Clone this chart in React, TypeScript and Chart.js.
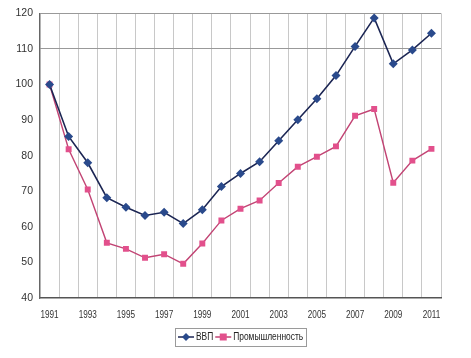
import React, { useEffect, useRef } from "react";
import { Chart, registerables } from "chart.js";

Chart.register(...registerables);

const years = [
  "1991", "1992", "1993", "1994", "1995", "1996", "1997", "1998", "1999", "2000",
  "2001", "2002", "2003", "2004", "2005", "2006", "2007", "2008", "2009", "2010", "2011",
];
const gdp = [100, 85.4, 78, 68.2, 65.5, 63.2, 64.1, 60.9, 64.8, 71.3, 75, 78.3, 84.2, 90.1, 96, 102.5, 110.7, 118.7, 105.8, 109.7, 114.4];
const industry = [100, 81.8, 70.5, 55.5, 53.8, 51.3, 52.3, 49.6, 55.3, 61.8, 65.1, 67.4, 72.3, 76.9, 79.7, 82.6, 91.2, 93.1, 72.4, 78.6, 81.9];
const seriesNames = ["ВВП", "Промышленность"];

const FONT = "'Liberation Sans', Arial, sans-serif";
const GDP_LINE = "#1c2654";
const GDP_MARK = "#2a4a8c";
const IND_LINE = "#c24474";
const IND_MARK = "#e2508c";

// Draws condensed x labels (every other year) and a boxed legend below the plot.
const condensedText = {
  id: "condensedText",
  afterDraw(chart: any) {
    const ctx = chart.ctx;
    const xs = chart.scales.x;
    const area = chart.chartArea;
    ctx.save();
    ctx.fillStyle = "#333";
    ctx.font = `10.5px ${FONT}`;
    ctx.textAlign = "center";
    ctx.textBaseline = "middle";
    const sx = 0.78;
    years.forEach((y, i) => {
      if (i % 2 !== 0) return;
      const px = xs.getPixelForTick(i);
      ctx.save();
      ctx.translate(px, area.bottom + 17);
      ctx.scale(sx, 1);
      ctx.fillText(y, 0, 0);
      ctx.restore();
    });
    ctx.restore();

    // legend
    const lsx = 0.8;
    ctx.save();
    ctx.font = `10.5px ${FONT}`;
    const iconW = 16;
    const gap = 2;
    const itemGap = 2;
    const pad = 3;
    const widths = seriesNames.map((n) => ctx.measureText(n).width * lsx);
    const total = pad * 2 + widths.reduce((a, w) => a + iconW + gap + w, 0) + itemGap;
    const cx = (area.left + area.right) / 2;
    let x = Math.round(cx - total / 2);
    const top = area.bottom + 30;
    const h = 18;
    const mid = top + h / 2;
    ctx.strokeStyle = "#9a9a9a";
    ctx.lineWidth = 1;
    ctx.strokeRect(x + 0.5, top + 0.5, Math.round(total), h);
    x += pad;
    seriesNames.forEach((n, i) => {
      const line = i === 0 ? GDP_LINE : IND_LINE;
      const mark = i === 0 ? GDP_MARK : IND_MARK;
      ctx.strokeStyle = line;
      ctx.lineWidth = 1.5;
      ctx.beginPath();
      ctx.moveTo(x, mid);
      ctx.lineTo(x + iconW, mid);
      ctx.stroke();
      ctx.fillStyle = mark;
      const c = x + iconW / 2;
      ctx.beginPath();
      if (i === 0) {
        ctx.moveTo(c, mid - 4);
        ctx.lineTo(c + 4, mid);
        ctx.lineTo(c, mid + 4);
        ctx.lineTo(c - 4, mid);
        ctx.closePath();
      } else {
        ctx.rect(c - 3.5, mid - 3.5, 7, 7);
      }
      ctx.fill();
      x += iconW + gap;
      ctx.save();
      ctx.translate(x, mid);
      ctx.scale(lsx, 1);
      ctx.fillStyle = "#222";
      ctx.textAlign = "left";
      ctx.textBaseline = "middle";
      ctx.fillText(n, 0, 0);
      ctx.restore();
      x += widths[i] + itemGap;
    });
    ctx.restore();
  },
};

export default function App() {
  const ref = useRef<HTMLCanvasElement>(null);
  useEffect(() => {
    if (!ref.current) return;
    const chart = new Chart(ref.current, {
      type: "line",
      data: {
        labels: years,
        datasets: [
          {
            label: seriesNames[0],
            data: gdp,
            borderColor: GDP_LINE,
            backgroundColor: GDP_MARK,
            borderWidth: 1.6,
            pointStyle: "rectRot",
            pointRadius: 4.5,
            pointBorderWidth: 0,
            pointBackgroundColor: GDP_MARK,
            tension: 0,
          },
          {
            label: seriesNames[1],
            data: industry,
            borderColor: IND_LINE,
            backgroundColor: IND_MARK,
            borderWidth: 1.4,
            pointStyle: "rect",
            pointRadius: 4.2,
            pointBorderWidth: 0,
            pointBackgroundColor: IND_MARK,
            tension: 0,
          },
        ],
      },
      options: {
        animation: false,
        responsive: false,
        maintainAspectRatio: false,
        layout: { padding: { left: 0, right: 30, top: 12, bottom: 0 } },
        plugins: {
          tooltip: { enabled: false },
          legend: { display: false },
        },
        scales: {
          x: {
            offset: true,
            grid: {
              offset: true,
              color: "#c8c8c8",
              lineWidth: 1,
              drawTicks: false,
            },
            border: { color: "#555", width: 1.5 },
            ticks: { display: false, autoSkip: false },
            afterFit: (s: any) => {
              s.height = 60;
            },
          },
          y: {
            min: 40,
            max: 120,
            grid: {
              color: (ctx: any) => (ctx.tick && (ctx.tick.value === 110 || ctx.tick.value === 120) ? "#999" : "rgba(0,0,0,0)"),
              drawTicks: false,
            },
            border: { color: "#666", width: 1.2 },
            ticks: {
              stepSize: 10,
              font: { family: FONT, size: 10.5 },
              color: "#333",
              padding: 7,
            },
            afterFit: (s: any) => {
              s.width = 40;
            },
          },
        },
      },
      plugins: [condensedText],
    });
    return () => chart.destroy();
  }, []);
  return (
    <div style={{ position: "fixed", left: 0, top: 0, width: 471, height: 358, background: "#fff" }}>
      <canvas ref={ref} width={471} height={358} />
    </div>
  );
}
